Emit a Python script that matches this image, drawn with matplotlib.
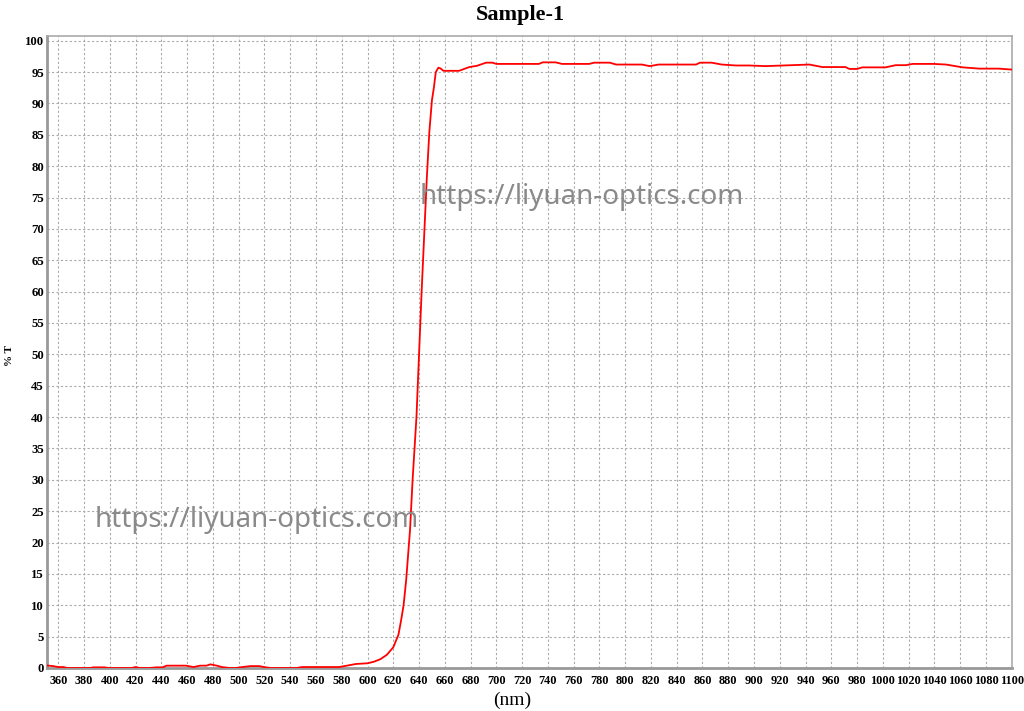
import matplotlib
matplotlib.use("Agg")
import matplotlib.pyplot as plt

# ── Transmission data ─────────────────────────────────────────────────────────
wavelength = [351, 356, 360, 364, 367, 385, 387, 396, 399, 417, 420, 423, 431,
              436, 441, 444, 459, 465, 470, 475, 478, 483, 487, 493, 498, 503,
              509, 516, 521, 525, 545, 549, 578, 584, 591, 600, 605, 610, 615,
              620, 624, 626, 628, 630, 631.5, 633, 635, 638, 640, 642, 644, 646,
              648, 650, 651.5, 653, 655, 656.5, 659, 664, 671, 679, 685, 692,
              697, 700, 733, 736, 746, 751, 772, 776, 788, 793, 813, 819, 826,
              855, 858, 867, 875, 886, 896, 909, 943, 953, 971, 974, 980, 984,
              1002, 1010, 1018, 1023, 1040, 1049, 1062, 1075, 1090, 1100]
transmittance = [0.4, 0.3, 0.15, 0.15, 0.0, 0.0, 0.1, 0.1, 0.0, 0.0, 0.15, 0.0,
                 0.0, 0.1, 0.1, 0.37, 0.37, 0.15, 0.37, 0.37, 0.58, 0.37, 0.15,
                 0.0, 0.0, 0.15, 0.3, 0.3, 0.1, 0.0, 0.0, 0.15, 0.15, 0.37,
                 0.64, 0.75, 1.0, 1.4, 2.1, 3.3, 5.3, 7.5, 10.0, 14.0, 18.0,
                 22.0, 30.0, 40.0, 50.0, 60.0, 69.0, 78.0, 85.5, 90.5, 92.5,
                 95.0, 95.7, 95.6, 95.2, 95.2, 95.2, 95.8, 96.0, 96.5, 96.5,
                 96.3, 96.3, 96.55, 96.55, 96.3, 96.3, 96.5, 96.5, 96.2, 96.2,
                 95.95, 96.2, 96.2, 96.5, 96.5, 96.2, 96.05, 96.05, 95.95,
                 96.2, 95.8, 95.8, 95.5, 95.5, 95.75, 95.75, 96.1, 96.1, 96.3,
                 96.3, 96.2, 95.75, 95.55, 95.55, 95.4]

x_ticks = list(range(360, 1101, 20))
y_ticks = list(range(0, 101, 5))

TITLE = "Sample-1"
WATERMARK = "https://liyuan-optics.com"

SERIF = ["Liberation Serif", "DejaVu Serif"]

fig = plt.figure(figsize=(10.24, 7.11), dpi=100)
ax = fig.add_axes([0.0456, 0.0605, 0.9424, 0.8893])

ax.plot(wavelength, transmittance, color="#ff0000", linewidth=1.3, zorder=3)

ax.set_xlim(351, 1100)
ax.set_ylim(0, 100.8)
ax.set_xticks(x_ticks)
ax.set_yticks(y_ticks)
ax.set_xticklabels([str(v) for v in x_ticks], fontfamily=SERIF,
                   fontweight="bold", fontsize=8.8)
ax.set_yticklabels([str(v) for v in y_ticks], fontfamily=SERIF,
                   fontweight="bold", fontsize=9.2)
ax.tick_params(axis="both", length=0)
ax.tick_params(axis="x", pad=5)
ax.tick_params(axis="y", pad=2)

ax.grid(True, color="#aaaaaa", linestyle=(0, (2, 2)), linewidth=0.8)
ax.set_axisbelow(True)
for side in ["left", "bottom"]:
    ax.spines[side].set_color("#999999")
    ax.spines[side].set_linewidth(2)
for side in ["top", "right"]:
    ax.spines[side].set_color("#aaaaaa")
    ax.spines[side].set_linewidth(1.2)

fig.text(0.508, 0.979, TITLE, ha="center", va="center", fontfamily=SERIF,
         fontweight="bold", fontsize=16)
fig.text(0.009, 0.5, "% T", ha="center", va="center", rotation=90,
         fontfamily=SERIF, fontweight="bold", fontsize=8)
fig.text(0.5, 0.015, "(nm)", ha="center", va="center", fontfamily=SERIF,
         fontsize=14)

# watermarks
fig.text(0.41, 0.723, WATERMARK, ha="left", va="center", color="#8a8a8a",
         fontfamily="Noto Sans", fontsize=20, zorder=5)
fig.text(0.0928, 0.2686, WATERMARK, ha="left", va="center", color="#8a8a8a",
         fontfamily="Noto Sans", fontsize=20, zorder=5)

fig.savefig("out.png", dpi=100)
